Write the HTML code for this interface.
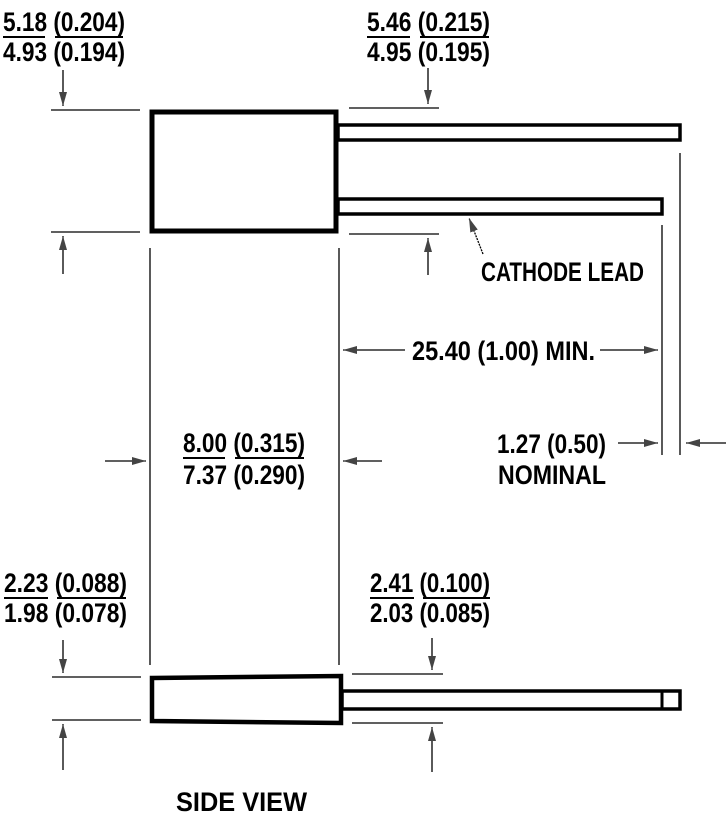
<!DOCTYPE html>
<html><head><meta charset="utf-8"><style>
html,body{margin:0;padding:0;background:#fff}
svg{display:block}
text{font-family:"Liberation Sans Narrow","Liberation Sans",sans-serif;font-weight:bold;font-size:27px;fill:#000}
</style></head><body>
<svg width="728" height="816" viewBox="0 0 728 816" xmlns="http://www.w3.org/2000/svg">
<defs>
<marker id="a" viewBox="0 0 10 10" refX="10" refY="5" markerWidth="14" markerHeight="10" markerUnits="userSpaceOnUse" orient="auto" preserveAspectRatio="none">
<path d="M0,1 L10,5 L0,9 z" fill="#444"/></marker>
</defs>
<g stroke="#000" fill="none">
<rect x="152" y="112" width="184" height="119" stroke-width="5"/>
<rect x="338" y="125" width="342" height="15" stroke-width="3.5"/>
<rect x="338" y="199" width="324" height="15" stroke-width="3.5"/>
<g stroke-width="1.3">
<line x1="51" y1="110" x2="140" y2="110"/>
<line x1="51" y1="232" x2="140" y2="232"/>
<line x1="349" y1="108" x2="439" y2="108"/>
<line x1="349" y1="234" x2="439" y2="234"/>
<line x1="680" y1="153" x2="680" y2="455"/>
<line x1="662" y1="225" x2="662" y2="455"/>
<line x1="150" y1="248" x2="150" y2="665"/>
<line x1="339" y1="248" x2="339" y2="665"/>
<line x1="52" y1="677" x2="141" y2="677"/>
<line x1="52" y1="720" x2="141" y2="720"/>
<line x1="352" y1="674" x2="443" y2="674"/>
<line x1="352" y1="723" x2="443" y2="723"/>
</g>
<g stroke-width="1.3" marker-end="url(#a)">
<line x1="63" y1="70" x2="63" y2="106"/>
<line x1="63" y1="274" x2="63" y2="236"/>
<line x1="428" y1="68" x2="428" y2="104"/>
<line x1="428" y1="275" x2="428" y2="238"/>
<line x1="483" y1="254" x2="469" y2="218" stroke-dasharray="2 1"/>
<line x1="405" y1="350" x2="343" y2="350"/>
<line x1="600" y1="350" x2="658" y2="350"/>
<line x1="105" y1="461" x2="146" y2="461"/>
<line x1="382" y1="461" x2="343" y2="461"/>
<line x1="618" y1="443" x2="658" y2="443"/>
<line x1="726" y1="443" x2="686" y2="443"/>
<line x1="63" y1="640" x2="63" y2="673"/>
<line x1="63" y1="770" x2="63" y2="724"/>
<line x1="432" y1="638" x2="432" y2="670"/>
<line x1="432" y1="772" x2="432" y2="727"/>
</g>
<path d="M152,678 L341,676 L341,723 L152,721 Z" stroke-width="4.5"/>
<rect x="342" y="691" width="338" height="18" stroke-width="3.5"/>
<line x1="662" y1="691" x2="662" y2="709" stroke-width="3"/>
<g stroke-width="2">
<line x1="3" y1="37" x2="45" y2="37"/><line x1="55" y1="37" x2="123" y2="37"/>
<line x1="367" y1="37" x2="410" y2="37"/><line x1="420" y1="37" x2="489" y2="37"/>
<line x1="183" y1="458" x2="225" y2="458"/><line x1="235" y1="458" x2="304" y2="458"/>
<line x1="4" y1="598" x2="48" y2="598"/><line x1="57" y1="598" x2="126" y2="598"/>
<line x1="370" y1="598" x2="414" y2="598"/><line x1="423" y1="598" x2="490" y2="598"/>
</g>
</g>
<text x="3" y="31" textLength="122" lengthAdjust="spacingAndGlyphs">5.18 (0.204)</text>
<text x="3" y="61" textLength="122" lengthAdjust="spacingAndGlyphs">4.93 (0.194)</text>
<text x="367" y="31" textLength="123" lengthAdjust="spacingAndGlyphs">5.46 (0.215)</text>
<text x="367" y="61" textLength="123" lengthAdjust="spacingAndGlyphs">4.95 (0.195)</text>
<text x="481" y="281" textLength="163" lengthAdjust="spacingAndGlyphs">CATHODE LEAD</text>
<text x="412" y="360" textLength="183" lengthAdjust="spacingAndGlyphs">25.40 (1.00) MIN.</text>
<text x="183" y="452" textLength="122" lengthAdjust="spacingAndGlyphs">8.00 (0.315)</text>
<text x="183" y="484" textLength="122" lengthAdjust="spacingAndGlyphs">7.37 (0.290)</text>
<text x="497" y="453" textLength="109" lengthAdjust="spacingAndGlyphs">1.27 (0.50)</text>
<text x="498" y="484" textLength="108" lengthAdjust="spacingAndGlyphs">NOMINAL</text>
<text x="4" y="592" textLength="123" lengthAdjust="spacingAndGlyphs">2.23 (0.088)</text>
<text x="4" y="622" textLength="123" lengthAdjust="spacingAndGlyphs">1.98 (0.078)</text>
<text x="370" y="592" textLength="120" lengthAdjust="spacingAndGlyphs">2.41 (0.100)</text>
<text x="370" y="622" textLength="120" lengthAdjust="spacingAndGlyphs">2.03 (0.085)</text>
<text x="176" y="811" textLength="131" lengthAdjust="spacingAndGlyphs">SIDE VIEW</text>
</svg>
</body></html>
